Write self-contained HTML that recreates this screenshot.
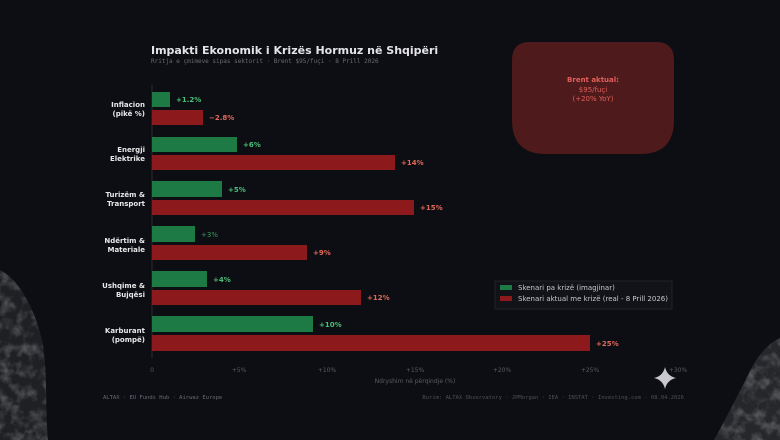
<!DOCTYPE html>
<html><head><meta charset="utf-8"><style>
html,body{margin:0;padding:0;background:#0d0e13;}
svg{display:block;}
text{font-family:"DejaVu Sans","Liberation Sans",sans-serif;}
.m{font-family:"DejaVu Sans Mono","Liberation Mono",monospace;}
</style></head><body>
<svg width="780" height="440" viewBox="0 0 780 440" xmlns="http://www.w3.org/2000/svg">
<defs>
<filter id="tex"><feTurbulence type="fractalNoise" baseFrequency="0.09" numOctaves="3" seed="3"/><feColorMatrix values="0 0 0 0 0.6  0 0 0 0 0.61  0 0 0 0 0.63  0 0 0 1.2 -0.5"/><feComposite in2="SourceGraphic" operator="in"/></filter>
</defs>
<rect width="780" height="440" fill="#0d0e13"/>
<path d="M0,270 C20,280 35,310 42,340 C48,370 45,410 48,440 L0,440 Z" fill="#1f2024"/>
<path d="M0,270 C20,280 35,310 42,340 C48,370 45,410 48,440 L0,440 Z" fill="#fff" filter="url(#tex)" opacity="0.6"/>
<path d="M780,338 C765,345 755,360 748,375 C738,395 725,420 714,440 L780,440 Z" fill="#26272b"/>
<path d="M780,338 C765,345 755,360 748,375 C738,395 725,420 714,440 L780,440 Z" fill="#fff" filter="url(#tex)" opacity="0.6"/>
<path d="M530,42 L656,42 Q674,42 674,60 L674,120 Q674,154 640,154 L546,154 Q512,154 512,120 L512,60 Q512,42 530,42 Z" fill="#4f1a1b"/>
<text x="593" y="82" font-size="7" font-weight="bold" fill="#e0605a" text-anchor="middle">Brent aktual:</text>
<text x="593" y="92" font-size="7" fill="#e0605a" text-anchor="middle">$95/fuçi</text>
<text x="593" y="101" font-size="7" fill="#e0605a" text-anchor="middle">(+20% YoY)</text>
<text x="151" y="54" font-size="11" font-weight="bold" fill="#e4e4e8">Impakti Ekonomik i Krizës Hormuz në Shqipëri</text>
<text x="151" y="63" font-size="6" fill="#6a6b72" class="m">Rritja e çmimeve sipas sektorit  ·  Brent $95/fuçi  ·  8 Prill 2026</text>
<line x1="152" y1="85" x2="152" y2="358" stroke="#2a2b30" stroke-width="1"/>
<g font-size="7" font-weight="bold" fill="#e8e8ea" text-anchor="end">
<text x="145" y="107">Inflacion</text><text x="145" y="116">(pikë %)</text>
<text x="145" y="152">Energji</text><text x="145" y="161">Elektrike</text>
<text x="145" y="197">Turizëm &amp;</text><text x="145" y="206">Transport</text>
<text x="145" y="243">Ndërtim &amp;</text><text x="145" y="252">Materiale</text>
<text x="145" y="288">Ushqime &amp;</text><text x="145" y="297">Bujqësi</text>
<text x="145" y="333">Karburant</text><text x="145" y="342">(pompë)</text>
</g>
<g fill="#1e7a44">
<rect x="152" y="92" width="18" height="15"/>
<rect x="152" y="137" width="85" height="15"/>
<rect x="152" y="181" width="70" height="16"/>
<rect x="152" y="226" width="43" height="16"/>
<rect x="152" y="271" width="55" height="16"/>
<rect x="152" y="316" width="161" height="16"/>
</g>
<g fill="#8c1a1c">
<rect x="152" y="110" width="51" height="15"/>
<rect x="152" y="155" width="243" height="15"/>
<rect x="152" y="200" width="262" height="15"/>
<rect x="152" y="245" width="155" height="15"/>
<rect x="152" y="290" width="209" height="15"/>
<rect x="152" y="335" width="438" height="16"/>
</g>
<g font-size="7" font-weight="bold" fill="#4cbf7a">
<text x="176" y="102">+1.2%</text>
<text x="243" y="147">+6%</text>
<text x="228" y="192">+5%</text>
<text x="201" y="237" font-weight="normal" fill="#3a9a5e">+3%</text>
<text x="213" y="282">+4%</text>
<text x="319" y="327">+10%</text>
</g>
<g font-size="7" font-weight="bold" fill="#e06a5a">
<text x="209" y="120">−2.8%</text>
<text x="401" y="165">+14%</text>
<text x="420" y="210">+15%</text>
<text x="313" y="255">+9%</text>
<text x="367" y="300">+12%</text>
<text x="596" y="346">+25%</text>
</g>
<g font-size="6" fill="#5a5b62" text-anchor="middle" class="m">
<text x="152" y="372">0</text>
<text x="239" y="372">+5%</text>
<text x="327" y="372">+10%</text>
<text x="415" y="372">+15%</text>
<text x="502" y="372">+20%</text>
<text x="590" y="372">+25%</text>
<text x="678" y="372">+30%</text>
<text x="415" y="383" font-family="DejaVu Sans,sans-serif">Ndryshim në përqindje (%)</text>
</g>
<rect x="495" y="281" width="177" height="28" fill="#121318" stroke="#2a2b30" stroke-width="0.7"/>
<rect x="500" y="285" width="12" height="5" fill="#1e7a44"/>
<rect x="500" y="296" width="12" height="5" fill="#8c1a1c"/>
<text x="518" y="290" font-size="7" fill="#c8c8cc">Skenari pa krizë (imagjinar)</text>
<text x="518" y="301" font-size="7" fill="#c8c8cc">Skenari aktual me krizë (real - 8 Prill 2026)</text>
<text x="103" y="399" font-size="5.5" fill="#6a6b72" class="m">ALTAX · EU Funds Hub · Airwaz Europe</text>
<text x="684" y="399" font-size="5.5" fill="#4e4f56" class="m" text-anchor="end">Burim: ALTAX Observatory · JPMorgan · IEA · INSTAT · Investing.com  ·  08.04.2026</text>
<path d="M665,367 Q667,376 676,378 Q667,380 665,389 Q663,380 654,378 Q663,376 665,367 Z" fill="#c8c8cc"/>
</svg>
</body></html>
